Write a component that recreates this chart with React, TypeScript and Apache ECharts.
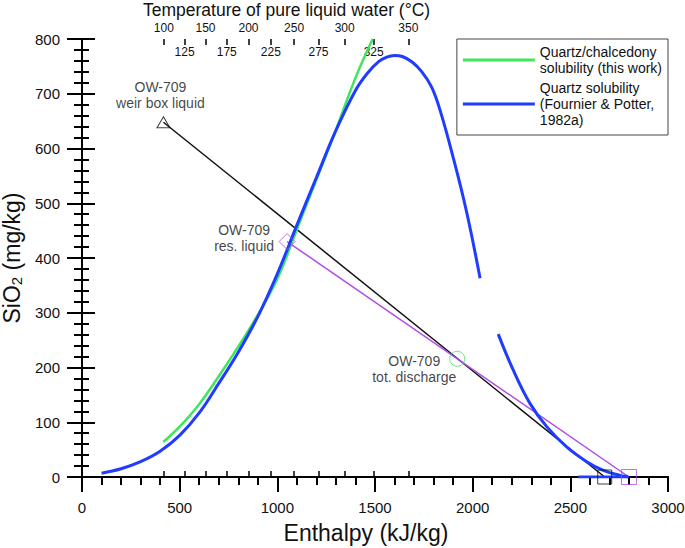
import React, { useEffect, useRef } from 'react';
import * as echarts from 'echarts';

const FONT = '"Liberation Sans", Arial, Helvetica, sans-serif';

// Temperature axis (saturated liquid water enthalpy, kJ/kg)
const tempValues = [100, 125, 150, 175, 200, 225, 250, 275, 300, 325, 350];
const tempEnthalpy = [419.1, 525.1, 632.2, 741.2, 852.3, 966.8, 1085.7, 1210.9, 1344.8, 1493.2, 1670.9];

// Quartz/chalcedony solubility (this work) [enthalpy, SiO2]
const greenCurve: [number, number][] = [
  [416, 64], [500, 92], [600, 133], [700, 184], [800, 238], [900, 296], [1000, 362],
  [1100, 452], [1200, 543], [1300, 634], [1400, 729], [1488, 800],
];

// Quartz solubility (Fournier & Potter, 1982a) - liquid branch
const blueLiquid: [number, number][] = [
  [100, 7], [200, 15], [300, 28], [400, 47], [500, 76], [600, 117], [700, 171], [800, 228],
  [900, 293], [1000, 371], [1100, 460], [1200, 547], [1300, 633], [1400, 706], [1460, 737],
  [1520, 759], [1560, 767], [1600, 770], [1640, 768], [1690, 758], [1740, 740], [1790, 712],
  [1833, 670], [1900, 584], [1969, 484], [2038, 363],
];

// Quartz solubility - vapour branch
const blueVapour: [number, number][] = [
  [2131, 261], [2208, 195], [2294, 134], [2379, 92], [2481, 55], [2584, 28], [2669, 12],
  [2754, 3], [2797, 0],
];
const blueVapourLow: [number, number][] = [[2541, 0], [2797, 0]];

// OW-709 samples
const weirBox: [number, number] = [417, 648];
const resLiquid: [number, number] = [1050, 430];
const totDischarge: [number, number] = [1921, 216];
const steamBlack: [number, number] = [2676, 0];
const steamPurple: [number, number] = [2800, 0];

const GREEN_NAME = 'Quartz/chalcedony\nsolubility (this work)';
const BLUE_NAME = 'Quartz solubility\n(Fournier & Potter,\n1982a)';
const TOP_TITLE = 'Temperature of pure liquid water (°C)';

const GREEN = '#3ee65c';
const BLUE = '#1f3cff';
const PURPLE = '#b04ae8';

function tempLabel(v: number): string {
  const i = tempEnthalpy.findIndex((h) => Math.abs(h - v) < 0.5);
  return i >= 0 ? String(tempValues[i]) : '';
}

export default function App() {
  const ref = useRef<HTMLDivElement>(null);

  useEffect(() => {
    if (!ref.current) return;
    const chart = echarts.init(ref.current, undefined, { renderer: 'svg' });
    const axisLine = { show: true, lineStyle: { color: '#000', width: 2 } };
    const labelBase = { fontFamily: FONT, fontSize: 14, color: '#111', lineHeight: 16 };
    const plain = (v: number) => String(v);

    const option: any = {
      animation: false,
      backgroundColor: '#fff',
      textStyle: { fontFamily: FONT },
      title: {
        text: TOP_TITLE,
        left: 143,
        top: 1,
        padding: 0,
        textStyle: { fontFamily: FONT, fontSize: 17.5, fontWeight: 'normal', color: '#111', lineHeight: 18 },
      },
      grid: { left: 82, right: 17, top: 39, bottom: 71, containLabel: false, outerBoundsMode: 'none' },
      legend: {
        right: 17,
        top: 39,
        orient: 'vertical',
        data: [
          { name: GREEN_NAME, icon: 'rect', itemStyle: { color: GREEN } },
          { name: BLUE_NAME, icon: 'rect', itemStyle: { color: BLUE } },
        ],
        padding: [5, 6, 7, 6],
        itemWidth: 72,
        itemHeight: 3,
        itemGap: 4,
        borderColor: '#444',
        borderWidth: 1,
        borderRadius: 0,
        backgroundColor: '#fff',
        textStyle: { fontFamily: FONT, fontSize: 14, color: '#111', lineHeight: 16 },
      },
      xAxis: [
        {
          type: 'value',
          position: 'bottom',
          min: 0,
          max: 3000,
          interval: 500,
          axisLine,
          axisTick: { show: true, length: 15, lineStyle: { color: '#000', width: 2 } },
          minorTick: { show: true, splitNumber: 5, length: 8, lineStyle: { color: '#000', width: 2 } },
          splitLine: { show: false },
          axisLabel: { fontFamily: FONT, fontSize: 15, color: '#111', margin: 23, formatter: plain },
          name: 'Enthalpy (kJ/kg)',
          nameLocation: 'middle',
          nameGap: 44,
          nameTextStyle: { fontFamily: FONT, fontSize: 23, color: '#111', padding: [0, 18, 0, 0] },
        },
        {
          type: 'value',
          position: 'top',
          min: 0,
          max: 3000,
          axisLine,
          axisTick: { show: true, length: 6, customValues: tempEnthalpy, lineStyle: { color: '#000', width: 1.5 } },
          splitLine: { show: false },
          axisLabel: {
            fontFamily: FONT,
            fontSize: 12,
            color: '#111',
            margin: 5,
            hideOverlap: false,
            customValues: tempEnthalpy.filter((_, i) => i % 2 === 0),
            formatter: (v: number) => tempLabel(v),
          },
        },
        {
          type: 'value',
          position: 'top',
          min: 0,
          max: 3000,
          axisLine: { show: false },
          axisTick: { show: true, inside: true, length: 6, customValues: tempEnthalpy, lineStyle: { color: '#000', width: 1.5 } },
          splitLine: { show: false },
          axisLabel: {
            inside: true,
            fontFamily: FONT,
            fontSize: 12,
            color: '#111',
            margin: 7,
            hideOverlap: false,
            customValues: tempEnthalpy.filter((_, i) => i % 2 === 1),
            formatter: (v: number) => tempLabel(v),
          },
        },
      ],
      yAxis: [
        {
          type: 'value',
          position: 'left',
          min: 0,
          max: 800,
          interval: 100,
          axisLine,
          axisTick: { show: true, length: 15, lineStyle: { color: '#000', width: 2 } },
          minorTick: { show: true, splitNumber: 5, length: 8, lineStyle: { color: '#000', width: 2 } },
          splitLine: { show: false },
          axisLabel: { fontFamily: FONT, fontSize: 15, color: '#111', margin: 22, formatter: plain },
          name: 'SiO{sub|2} (mg/kg)',
          nameLocation: 'middle',
          nameGap: 44,
          nameTextStyle: {
            fontFamily: FONT,
            fontSize: 23,
            color: '#111',
            rich: {
              sub: { fontFamily: FONT, fontSize: 15, color: '#111', verticalAlign: 'bottom', padding: [10, 0, 0, 0] },
            },
          },
        },
        {
          type: 'value',
          position: 'right',
          min: 0,
          max: 800,
          interval: 100,
          axisLine,
          axisTick: { show: true, length: 13, lineStyle: { color: '#000', width: 2 } },
          minorTick: { show: true, splitNumber: 5, length: 7, lineStyle: { color: '#000', width: 2 } },
          splitLine: { show: false },
          axisLabel: { show: false },
        },
      ],
      series: [
        {
          type: 'line',
          name: 'black mixing',
          data: [weirBox, steamBlack],
          showSymbol: false,
          symbol: 'none',
          lineStyle: { color: '#111', width: 1.5 },
          z: 2,
        },
        {
          type: 'line',
          name: 'purple mixing',
          data: [resLiquid, steamPurple],
          showSymbol: false,
          symbol: 'none',
          lineStyle: { color: PURPLE, width: 1.5 },
          z: 2,
        },
        {
          type: 'line',
          name: GREEN_NAME,
          data: greenCurve,
          smooth: 0.4,
          symbol: 'none',
          showSymbol: false,
          color: GREEN,
          lineStyle: { color: GREEN, width: 2.5 },
          z: 3,
        },
        {
          type: 'line',
          name: BLUE_NAME,
          data: blueLiquid,
          smooth: 0.4,
          symbol: 'none',
          showSymbol: false,
          color: BLUE,
          lineStyle: { color: BLUE, width: 3 },
          z: 4,
        },
        {
          type: 'line',
          name: BLUE_NAME,
          data: blueVapour,
          smooth: 0.4,
          symbol: 'none',
          showSymbol: false,
          color: BLUE,
          lineStyle: { color: BLUE, width: 3 },
          z: 4,
        },
        {
          type: 'line',
          name: BLUE_NAME,
          data: blueVapourLow,
          symbol: 'none',
          showSymbol: false,
          color: BLUE,
          lineStyle: { color: BLUE, width: 3 },
          z: 4,
        },
        {
          type: 'scatter',
          name: 'weir box',
          clip: false,
          symbol: 'triangle',
          symbolSize: [13, 11],
          itemStyle: { color: 'rgba(0,0,0,0)', borderColor: '#111', borderWidth: 1 },
          data: [weirBox],
          label: { show: true, position: 'inside', align: 'center', verticalAlign: 'middle', offset: [-3, -27], formatter: 'OW-709\nweir box liquid', ...labelBase },
          z: 5,
        },
        {
          type: 'scatter',
          name: 'res liquid',
          clip: false,
          symbol: 'diamond',
          symbolSize: 16,
          itemStyle: { color: 'rgba(0,0,0,0)', borderColor: PURPLE, borderWidth: 1 },
          data: [resLiquid],
          label: { show: true, position: 'inside', align: 'center', verticalAlign: 'middle', offset: [-43, -4], formatter: 'OW-709\nres. liquid', ...labelBase },
          z: 5,
        },
        {
          type: 'scatter',
          name: 'tot discharge',
          clip: false,
          symbol: 'circle',
          symbolSize: 15,
          itemStyle: { color: 'rgba(0,0,0,0)', borderColor: GREEN, borderWidth: 1 },
          data: [totDischarge],
          label: { show: true, position: 'inside', align: 'center', verticalAlign: 'middle', offset: [-43, 10], formatter: 'OW-709\ntot. discharge', ...labelBase },
          z: 5,
        },
        {
          type: 'scatter',
          name: 'steam black',
          clip: false,
          symbol: 'rect',
          symbolSize: 14,
          itemStyle: { color: 'rgba(0,0,0,0)', borderColor: '#111', borderWidth: 1 },
          data: [steamBlack],
          z: 5,
        },
        {
          type: 'scatter',
          name: 'steam purple',
          clip: false,
          symbol: 'rect',
          symbolSize: 15,
          itemStyle: { color: 'rgba(0,0,0,0)', borderColor: PURPLE, borderWidth: 1 },
          data: [steamPurple],
          z: 5,
        },
      ],
    };

    chart.setOption(option);
    return () => chart.dispose();
  }, []);

  return (
    <div
      ref={ref}
      style={{ position: 'fixed', left: 0, top: 0, width: 685, height: 548, background: '#fff' }}
    />
  );
}
